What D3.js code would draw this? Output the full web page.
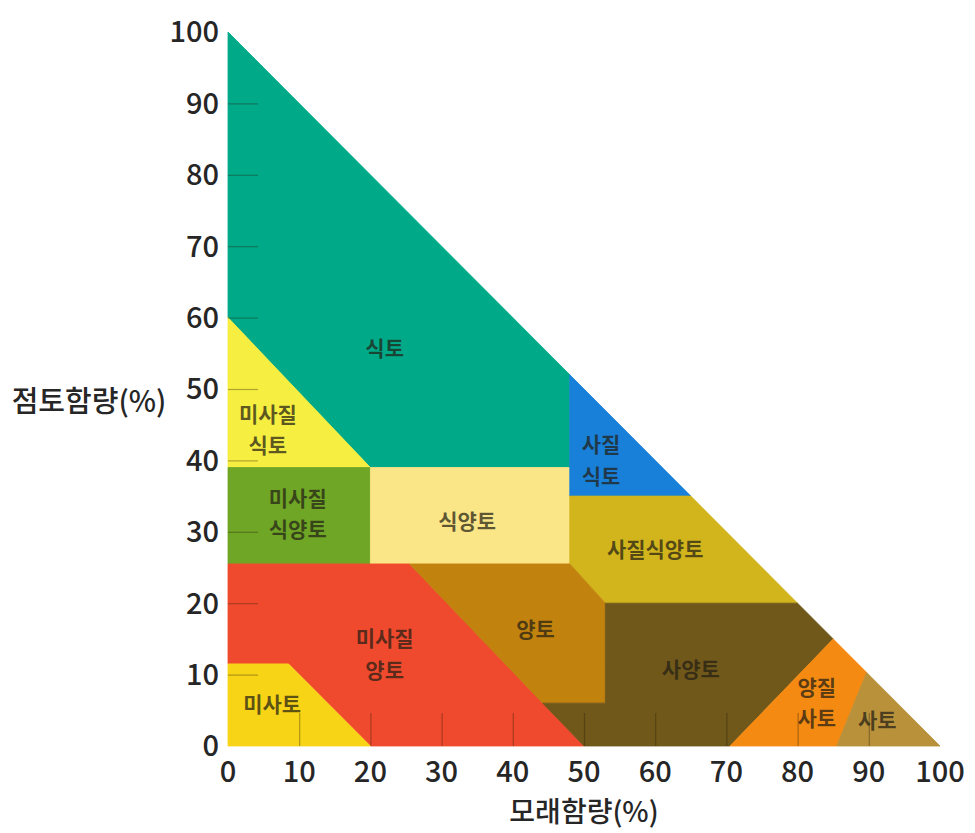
<!DOCTYPE html>
<html>
<head>
<meta charset="utf-8">
<script src="https://cdn.jsdelivr.net/npm/d3@7"></script>
<style>
  html, body { margin: 0; padding: 0; background: #fff; }
  svg { display: block; }
</style>
</head>
<body>
<svg id="chart" width="975" height="833"></svg>
<script>
// Soil texture classes: sand content (x, %) vs clay content (y, %)
const classNames = ["식토", "미사질식토", "미사질식양토", "식양토", "사질식토", "사질식양토",
  "미사질양토", "미사토", "양토", "사양토", "양질사토", "사토"];

// Polygon vertices per class as [sand %, clay %]
const classPolygons = [
  [[0, 60], [0, 100], [48, 52], [48, 39], [20, 39]],
  [[0, 39], [0, 60], [20, 39]],
  [[0, 25.5], [0, 39], [20, 39], [20, 25.5]],
  [[20, 25.5], [20, 39], [48, 39], [48, 25.5]],
  [[48, 35], [48, 52], [65, 35]],
  [[48, 25.5], [48, 35], [65, 35], [80, 20], [53, 20]],
  [[0, 11.5], [0, 25.5], [25.5, 25.5], [50, 0], [20, 0], [8.5, 11.5]],
  [[0, 0], [0, 11.5], [8.5, 11.5], [20, 0]],
  [[25.5, 25.5], [48, 25.5], [53, 20], [53, 6], [44.2, 6]],
  [[44.2, 6], [53, 6], [53, 20], [80, 20], [85, 15], [70.5, 0], [50, 0]],
  [[70.5, 0], [85, 15], [89.7, 10.3], [85.5, 0]],
  [[85.5, 0], [89.7, 10.3], [100, 0]]
];

const classColors = ["#00aa88", "#f6ee40", "#70a626", "#fbe687", "#1880d8", "#d2b41c",
  "#f04a2e", "#f8d416", "#c2820e", "#70571a", "#f48a12", "#b8913a"];

// Label lines and their anchor [sand %, clay %]
const classLabels = [
  ["식토"], ["미사질", "식토"], ["미사질", "식양토"], ["식양토"], ["사질", "식토"], ["사질식양토"],
  ["미사질", "양토"], ["미사토"], ["양토"], ["사양토"], ["양질", "사토"], ["사토"]
];
const labelAnchors = [
  [22, 55.7], [5.6, 44.3], [9.8, 32.5], [33.6, 31.5], [52.4, 40], [60, 27.5],
  [22, 12.8], [6.2, 5.8], [43.2, 16.3], [65, 10.7], [82.7, 6.0], [91.2, 3.6]
];

const xTicks = [0, 10, 20, 30, 40, 50, 60, 70, 80, 90, 100];
const yTicks = [0, 10, 20, 30, 40, 50, 60, 70, 80, 90, 100];
const xTitle = "모래함량(%)";
const yTitle = "점토함량(%)";

const svg = d3.select("#chart");
const x = d3.scaleLinear().domain([0, 100]).range([228, 940]);
const y = d3.scaleLinear().domain([0, 100]).range([746, 32]);

const font = "'Noto Sans CJK KR', 'Noto Sans', sans-serif";

// Class areas
const line = d3.line().x(d => x(d[0])).y(d => y(d[1])).curve(d3.curveLinearClosed);
svg.append("g")
  .selectAll("path")
  .data(classPolygons)
  .join("path")
  .attr("d", d => line(d))
  .attr("fill", (d, i) => classColors[i])
  .attr("stroke", (d, i) => classColors[i])
  .attr("stroke-width", 0.8);

// Short inner tick marks along the left and bottom edges
const yAxis = d3.axisLeft(y).tickValues(yTicks.filter(v => v > 0 && v < 100)).tickSize(-30).tickFormat("");
const gy = svg.append("g").attr("transform", `translate(${x(0)},0)`).call(yAxis);
gy.select(".domain").remove();
gy.selectAll(".tick line").attr("stroke", "rgba(40,30,10,0.35)").attr("stroke-width", 1.2);

const xAxis = d3.axisBottom(x).tickValues(xTicks.filter(v => v > 0 && v < 100)).tickSize(-33).tickFormat("");
const gx = svg.append("g").attr("transform", `translate(0,${y(0)})`).call(xAxis);
gx.select(".domain").remove();
gx.selectAll(".tick line").attr("stroke", "rgba(40,30,10,0.35)").attr("stroke-width", 1.2);

// Tick labels
svg.append("g")
  .selectAll("text")
  .data(yTicks)
  .join("text")
  .attr("x", x(0) - 9)
  .attr("y", d => y(d))
  .attr("dy", "0.36em")
  .attr("text-anchor", "end")
  .attr("font-family", font)
  .attr("font-size", 29)
  .attr("font-weight", 500)
  .attr("fill", "#262626")
  .text(d => d);

svg.append("g")
  .selectAll("text")
  .data(xTicks)
  .join("text")
  .attr("x", d => x(d))
  .attr("y", y(0) + 36)
  .attr("text-anchor", "middle")
  .attr("font-family", font)
  .attr("font-size", 29)
  .attr("font-weight", 500)
  .attr("fill", "#262626")
  .text(d => d);

// Axis titles
svg.append("text")
  .attr("x", 89).attr("y", 402).attr("dy", "0.36em")
  .attr("text-anchor", "middle")
  .attr("font-family", font).attr("font-size", 29).attr("font-weight", 500)
  .attr("fill", "#262626")
  .text(yTitle);

svg.append("text")
  .attr("x", x(50)).attr("y", 812).attr("dy", "0.36em")
  .attr("text-anchor", "middle")
  .attr("font-family", font).attr("font-size", 28).attr("font-weight", 500)
  .attr("fill", "#262626")
  .text(xTitle);

// Class labels
const lg = svg.append("g")
  .attr("font-family", font)
  .attr("font-size", 21)
  .attr("font-weight", 700)
  .attr("text-anchor", "middle");

classLabels.forEach((lines, i) => {
  const [ax, ay] = labelAnchors[i];
  const t = lg.append("text")
    .attr("x", x(ax))
    .attr("y", y(ay))
    .attr("fill", "rgba(35,30,20,0.72)");
  const n = lines.length;
  lines.forEach((s, k) => {
    t.append("tspan")
      .attr("x", x(ax))
      .attr("dy", k === 0 ? `${(0.36 - (n - 1) * 0.75).toFixed(2)}em` : "1.5em")
      .text(s);
  });
});
</script>
</body>
</html>
